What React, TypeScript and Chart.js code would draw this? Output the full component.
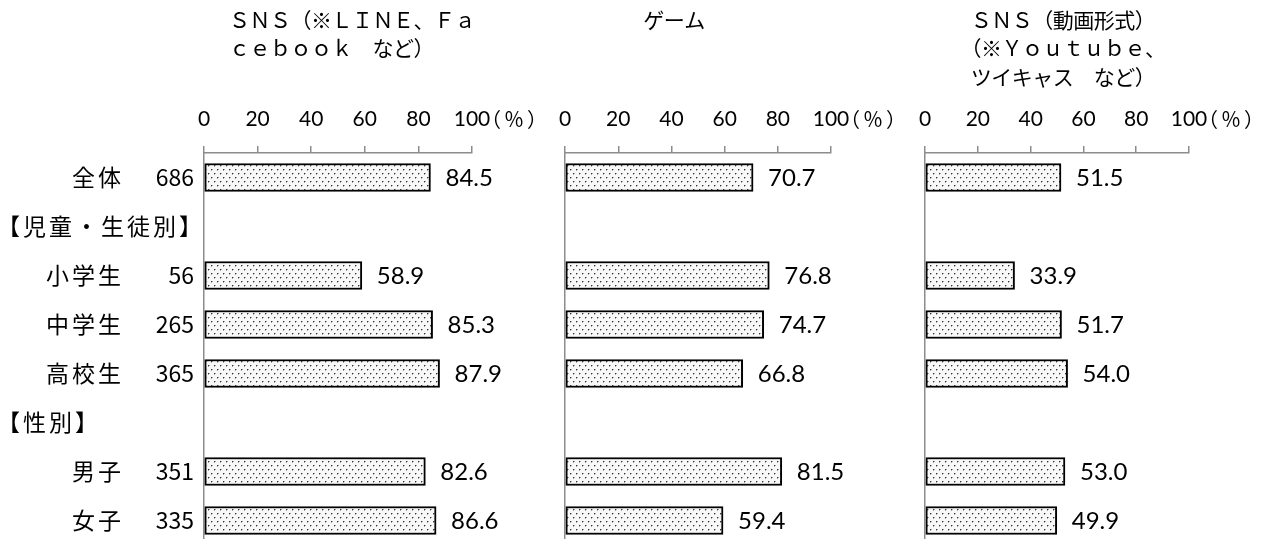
import React, { useEffect, useRef } from 'react';
import { Chart, registerables } from 'chart.js';

Chart.register(...registerables);

// ---- data ----
const categories = ['全体', '【児童・生徒別】', '小学生', '中学生', '高校生', '【性別】', '男子', '女子'];
const sampleSizes = ['686', '', '56', '265', '365', '', '351', '335'];
const isHeader = [false, true, false, false, false, true, false, false];
const snsText: (number | null)[] = [84.5, null, 58.9, 85.3, 87.9, null, 82.6, 86.6];
const gameValues: (number | null)[] = [70.7, null, 76.8, 74.7, 66.8, null, 81.5, 59.4];
const snsVideo: (number | null)[] = [51.5, null, 33.9, 51.7, 54.0, null, 53.0, 49.9];
const titleSns = ['ＳＮＳ（※ＬＩＮＥ、Ｆａ', 'ｃｅｂｏｏｋ　など）'];
const titleGame = ['ゲーム'];
const titleVideo = ['ＳＮＳ（動画形式）', '（※Ｙｏｕｔｕｂｅ、', 'ツイキャス　など）'];
const unitLabel = '（％）';

const JP = '"Noto Sans CJK JP", "Noto Sans CJK SC", sans-serif';
const NUM = 'Lato, "Open Sans", sans-serif';
const AXIS_GRAY = '#8c8c8c';
const CANVAS_H = 545;

type Panel = {
  left: number;
  width: number;
  areaLeft: number;
  areaRight: number;
  values: (number | null)[];
  title: string[];
  titleAlign: 'left' | 'center';
  titleX: number;
  showCategories: boolean;
};

const panels: Panel[] = [
  { left: 0, width: 545, areaLeft: 204, areaRight: 472, values: snsText, title: titleSns, titleAlign: 'left', titleX: 229, showCategories: true },
  { left: 545, width: 360, areaLeft: 16, areaRight: 286, values: gameValues, title: titleGame, titleAlign: 'center', titleX: 129, showCategories: false },
  { left: 905, width: 365, areaLeft: 14, areaRight: 284, values: snsVideo, title: titleVideo, titleAlign: 'center', titleX: 158, showCategories: false },
];

function makePattern(ctx: CanvasRenderingContext2D): CanvasPattern | string {
  const c = document.createElement('canvas');
  c.width = 6;
  c.height = 8;
  const p = c.getContext('2d');
  if (!p) return '#e6e6e6';
  p.fillStyle = '#f8f8f8';
  p.fillRect(0, 0, 6, 8);
  p.fillStyle = '#333333';
  p.fillRect(1, 1, 1, 1);
  p.fillRect(4, 5, 1, 1);
  p.fillStyle = '#a8a8a8';
  p.fillRect(2, 1, 1, 1);
  p.fillRect(5, 5, 1, 1);
  p.fillRect(1, 2, 1, 1);
  p.fillRect(4, 6, 1, 1);
  return ctx.createPattern(c, 'repeat') || '#e6e6e6';
}

function PanelChart({ panel }: { panel: Panel }) {
  const ref = useRef<HTMLCanvasElement | null>(null);
  useEffect(() => {
    const canvas = ref.current;
    if (!canvas) return;
    const ctx = canvas.getContext('2d');
    if (!ctx) return;
    const pattern = makePattern(ctx);

    const labelPlugin = {
      id: 'panelLabels',
      afterDraw(chart: any) {
        const c: CanvasRenderingContext2D = chart.ctx;
        const area = chart.chartArea;
        c.save();
        c.fillStyle = '#000';
        // titles
        c.font = `21px ${JP}`;
        (c as any).letterSpacing = '-0.5px';
        c.textBaseline = 'middle';
        c.textAlign = panel.titleAlign;
        panel.title.forEach((line, i) => {
          c.fillText(line, panel.titleX, 20 + i * 28.5);
        });
        // unit label
        (c as any).letterSpacing = '3px';
        c.font = `20px ${JP}`;
        c.textAlign = 'left';
        c.fillText(unitLabel, area.right + 9, 119);
        (c as any).letterSpacing = '0px';
        // value labels
        c.font = `24px ${NUM}`;
        const meta = chart.getDatasetMeta(0);
        meta.data.forEach((bar: any, i: number) => {
          const v = panel.values[i];
          if (v === null || v === undefined) return;
          c.fillText(v.toFixed(1), bar.x + 15, bar.y + 1);
        });
        // categories
        if (panel.showCategories) {
          const yScale = chart.scales.y;
          categories.forEach((cat, i) => {
            const y = yScale.getPixelForValue(i);
            c.font = `23px ${JP}`;
            (c as any).letterSpacing = '3px';
            if (isHeader[i]) {
              c.textAlign = 'left';
              c.fillText(cat, -3, y);
            } else {
              c.textAlign = 'right';
              c.fillText(cat, 124, y);
              (c as any).letterSpacing = '0px';
              c.fillText(sampleSizes[i], 194, y);
            }
          });
        }
        c.restore();
      },
    };

    const chart = new Chart(ctx, {
      type: 'bar',
      data: {
        labels: categories,
        datasets: [
          {
            data: panel.values as any,
            backgroundColor: pattern as any,
            borderColor: '#000',
            borderWidth: 2,
            borderSkipped: false,
            barThickness: 28,
          },
        ],
      },
      options: {
        indexAxis: 'y',
        responsive: false,
        animation: false,
        devicePixelRatio: 1,
        layout: { padding: { left: 0, right: panel.width - panel.areaRight, top: 0, bottom: 0 } },
        plugins: {
          legend: { display: false },
          tooltip: { enabled: false },
          title: { display: false },
        },
        scales: {
          x: {
            type: 'linear',
            position: 'top',
            min: 0,
            max: 100,
            ticks: {
              stepSize: 20,
              padding: 14,
              autoSkip: false,
              maxRotation: 0,
              color: '#000',
              font: { family: NUM, size: 21 },
            },
            grid: {
              drawOnChartArea: false,
              drawTicks: true,
              tickLength: 7,
              color: AXIS_GRAY,
              lineWidth: 1.5,
            },
            border: { display: true, color: AXIS_GRAY, width: 1.5 },
            afterFit: (s: any) => {
              s.height = 153;
            },
          },
          y: {
            type: 'category',
            offset: true,
            ticks: { display: false },
            grid: { display: false, drawTicks: false },
            border: { display: true, color: AXIS_GRAY, width: 1.5 },
            afterFit: (s: any) => {
              s.width = panel.areaLeft;
            },
          },
        },
      } as any,
      plugins: [labelPlugin],
    });
    return () => chart.destroy();
  }, [panel]);

  return (
    <canvas
      ref={ref}
      width={panel.width}
      height={CANVAS_H}
      style={{ position: 'absolute', left: panel.left, top: 0, width: panel.width, height: CANVAS_H }}
    />
  );
}

export default function App() {
  return (
    <div style={{ position: 'fixed', left: 0, top: 0, width: 1270, height: CANVAS_H, background: '#fff', overflow: 'hidden' }}>
      {panels.map((p, i) => (
        <PanelChart key={i} panel={p} />
      ))}
    </div>
  );
}
